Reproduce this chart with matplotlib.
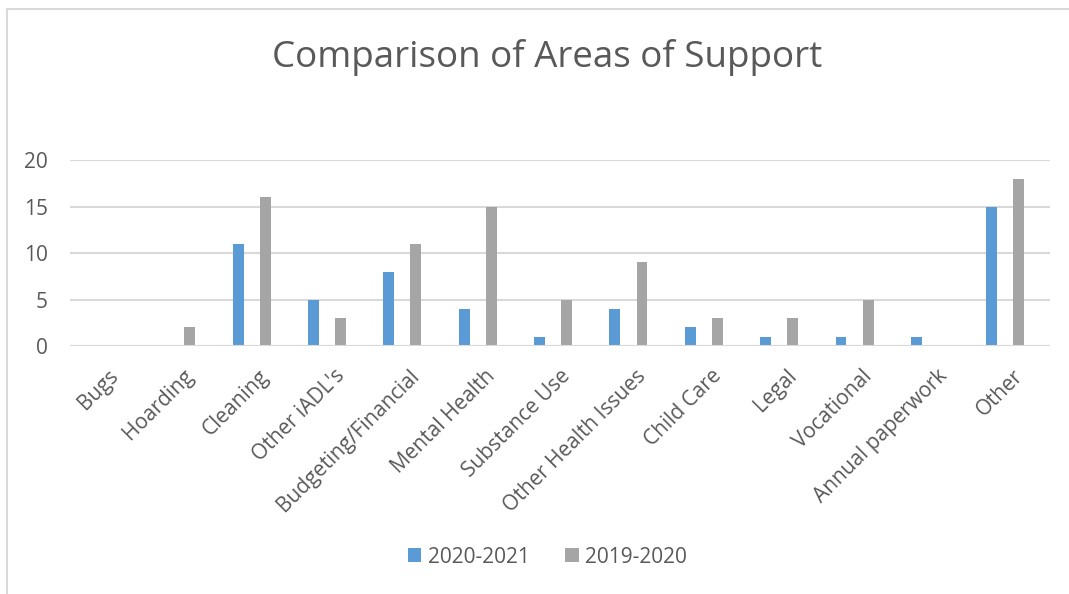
import numpy as np
import matplotlib.pyplot as plt
from matplotlib.lines import Line2D

categories = ["Bugs", "Hoarding", "Cleaning", "Other iADL's", "Budgeting/Financial",
              "Mental Health", "Substance Use", "Other Health Issues", "Child Care",
              "Legal", "Vocational", "Annual paperwork", "Other"]
series_2021 = [0, 0, 11, 5, 8, 4, 1, 4, 2, 1, 1, 1, 15]
series_2020 = [0, 2, 16, 3, 11, 15, 5, 9, 3, 3, 5, 0, 18]
yticks = [0, 5, 10, 15, 20]

plt.rcParams['font.family'] = ['Open Sans', 'DejaVu Sans']
text_color = '#595959'

fig = plt.figure(figsize=(10.69, 5.94), dpi=100)
ax = fig.add_axes([0.0655, 0.4175, 0.9165, 0.3131])

x = np.arange(len(categories))
w = 0.145
ax.bar(x - 0.27, series_2021, w, color='#5B9BD5', label='2020-2021', zorder=3)
ax.bar(x + 0.09, series_2020, w, color='#A5A5A5', label='2019-2020', zorder=3)

ax.set_xlim(-0.5, len(categories) - 0.5)
ax.set_ylim(0, 20)
ax.set_yticks(yticks)
ax.yaxis.grid(True, color='#D9D9D9', linewidth=1.5, zorder=0)
for s in ax.spines.values():
    s.set_visible(False)
ax.axhline(0, color='#D9D9D9', linewidth=1.5, zorder=4)
ax.tick_params(axis='both', length=0, colors=text_color, labelsize=15)
ax.tick_params(axis='y', pad=16)
ax.set_xticks(x)
ax.set_xticklabels(categories, rotation=45, ha='right', rotation_mode='anchor')
ax.tick_params(axis='x', pad=14)

fig.text(0.512, 0.904, 'Comparison of Areas of Support', ha='center', va='center',
         fontsize=26.5, color=text_color)

fig.legend(loc='center', bbox_to_anchor=(0.512, 0.062), ncol=2, frameon=False,
           fontsize=15, labelcolor=text_color, handlelength=0.65, handleheight=0.65,
           columnspacing=1.7, handletextpad=0.3)

fig.add_artist(Line2D([0.0065, 0.0065], [0, 0.985], color='#D9D9D9', linewidth=1.5))
fig.add_artist(Line2D([0.0065, 1], [0.985, 0.985], color='#D9D9D9', linewidth=1.5))

fig.savefig('out.png', dpi=100, facecolor='white')
